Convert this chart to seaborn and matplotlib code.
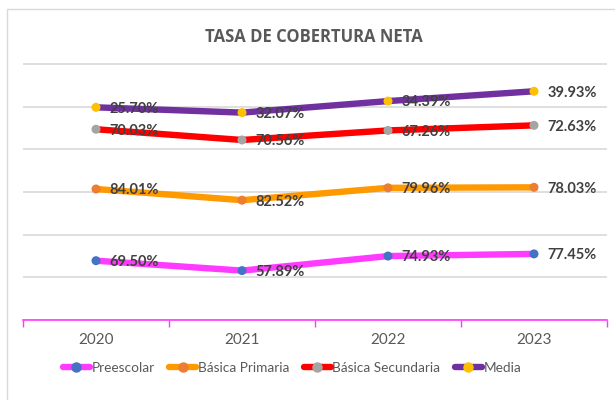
import numpy as np
import pandas as pd
import matplotlib
matplotlib.use("Agg")
import matplotlib.pyplot as plt
from matplotlib.lines import Line2D
from matplotlib.patches import Rectangle
import seaborn as sns

# Tasa de cobertura neta por nivel educativo (%)
years = ["2020", "2021", "2022", "2023"]
levels = ["Preescolar", "Básica Primaria", "Básica Secundaria", "Media"]
preescolar = [69.50, 57.89, 74.93, 77.45]
basica_primaria = [84.01, 82.52, 79.96, 78.03]
basica_secundaria = [70.03, 70.56, 67.26, 72.63]
media = [25.70, 32.07, 34.39, 39.93]

line_colors = ["#FF3BFF", "#FF9900", "#FF0000", "#7030A0"]
marker_colors = ["#4472C4", "#ED7D31", "#A5A5A5", "#FFC000"]

# Stacked line chart: each series is drawn on top of the previous ones
values = np.array([preescolar, basica_primaria, basica_secundaria, media])
stacked = np.cumsum(values, axis=0)

rows = []
for i, lvl in enumerate(levels):
    for j, yr in enumerate(years):
        rows.append({"nivel": lvl, "anio": yr, "pos": j,
                     "valor": values[i, j], "acumulado": stacked[i, j]})
df = pd.DataFrame(rows)

sns.set_theme(style="white")
plt.rcParams["font.family"] = ["Lato", "DejaVu Sans"]

fig = plt.figure(figsize=(6.15, 4.0), dpi=100)
ax = fig.add_axes([23 / 615, 1 - 320 / 400, (607 - 23) / 615, (320 - 62.3) / 400])

# chart frame
fig.patches.append(Rectangle((7 / 615, -0.1), 1.2, 1 - 9 / 400 + 0.1,
                             transform=fig.transFigure, fill=False,
                             edgecolor="#D9D9D9", linewidth=1.0, zorder=0))

sns.lineplot(data=df, x="pos", y="acumulado", hue="nivel", hue_order=levels,
             palette=line_colors, linewidth=4.6, legend=False, sort=False,
             ax=ax, zorder=2)
sns.scatterplot(data=df, x="pos", y="acumulado", hue="nivel", hue_order=levels,
                palette=marker_colors, s=42, edgecolor="none", legend=False,
                ax=ax, zorder=3)

for _, r in df.iterrows():
    ax.annotate(f"{r['valor']:.2f}%", (r["pos"], r["acumulado"]),
                xytext=(9.5, -1), textcoords="offset points",
                ha="left", va="center", fontsize=10.5, fontweight="bold",
                color="#404040", zorder=4)

ax.set_xlim(-0.5, 3.5)
ax.set_ylim(0, 302)
ax.set_xticks(range(len(years)))
ax.set_xticklabels(years, fontsize=11, color="#595959")
ax.set_xticks([-0.5, 0.5, 1.5, 2.5, 3.5], minor=True)
ax.tick_params(axis="x", which="major", length=0, pad=9)
ax.tick_params(axis="x", which="minor", length=5, width=1, color="#FF3BFF",
               direction="out", bottom=True)
ax.set_yticks(range(0, 301, 50))
ax.set_yticklabels([])
ax.tick_params(axis="y", length=0)
ax.grid(axis="y", color="#D9D9D9", linewidth=1.2)
ax.set_axisbelow(True)
ax.set_xlabel("")
ax.set_ylabel("")
for side in ["top", "left", "right"]:
    ax.spines[side].set_visible(False)
ax.spines["bottom"].set_color("#FF3BFF")
ax.spines["bottom"].set_linewidth(1.2)
ax.spines["bottom"].set_zorder(5)

fig.text(314 / 615, 1 - 37 / 400, "TASA DE COBERTURA NETA", ha="center",
         va="center", fontsize=12, fontweight="bold", color="#595959",
         family=["Open Sans", "DejaVu Sans"])

handles = [Line2D([0], [0], color=lc, linewidth=4.6, marker="o",
                  markersize=6.5, markerfacecolor=mc, markeredgecolor=mc)
           for lc, mc in zip(line_colors, marker_colors)]
fig.legend(handles, levels, loc="center", bbox_to_anchor=(292 / 615, 1 - 368 / 400),
           ncol=4, frameon=False, fontsize=9.8, handlelength=2.0,
           handletextpad=0.12, columnspacing=1.05, labelcolor="#595959",
           markerscale=1.0)

fig.savefig("out.png", dpi=100)
